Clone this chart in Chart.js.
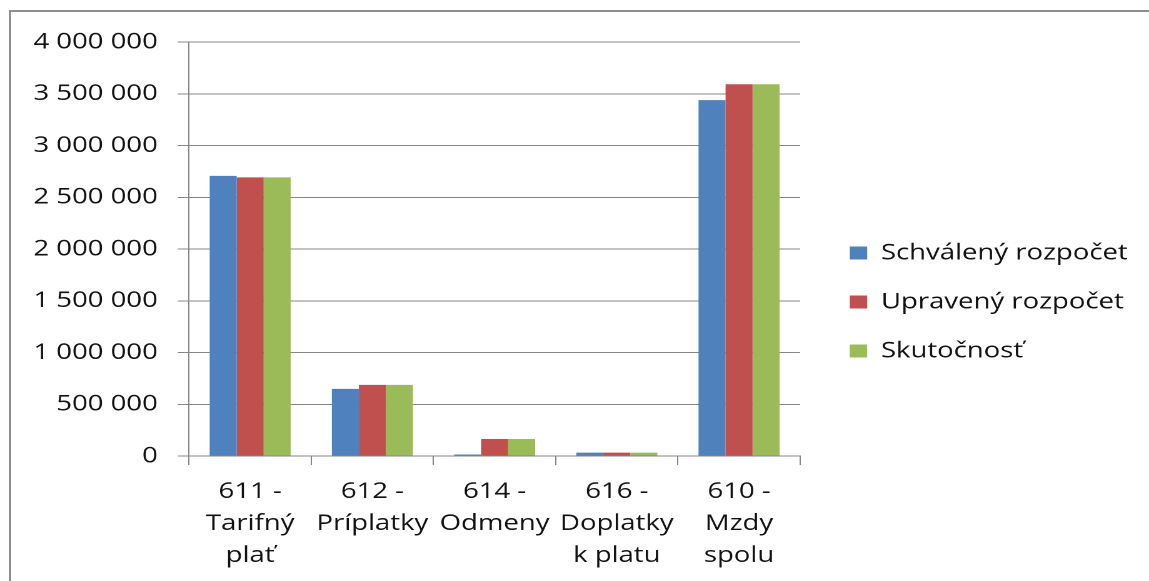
<!DOCTYPE html>
<html>
<head>
<meta charset="utf-8">
<script src="https://cdn.jsdelivr.net/npm/chart.js@4"></script>
<style>
html,body{margin:0;padding:0;background:#fff;overflow:hidden;width:1149px;height:581px;}
#frame{position:absolute;left:9px;top:10px;width:2000px;height:2000px;border-left:2px solid #8e8e8e;border-top:2px solid #8e8e8e;}
#wrap{position:absolute;left:0;top:0;width:919px;height:581px;transform:scaleX(1.2503);transform-origin:0 0;}
</style>
</head>
<body>
<div id="frame"></div>
<div id="wrap"><canvas id="c"></canvas></div>
<script>
const categories = [
  ["611 -", "Tarifný", "plať"],
  ["612 -", "Príplatky"],
  ["614 -", "Odmeny"],
  ["616 -", "Doplatky", "k platu"],
  ["610 -", "Mzdy", "spolu"]
];
const seriesNames = ["Schválený rozpočet", "Upravený rozpočet", "Skutočnosť"];
const schvaleny = [2706000, 649000, 14000, 33000, 3438000];
const upraveny = [2692000, 687000, 164000, 33000, 3592000];
const skutocnost = [2692000, 687000, 164000, 33000, 3592000];
const yTickLabels = ["0", "500 000", "1 000 000", "1 500 000", "2 000 000", "2 500 000", "3 000 000", "3 500 000", "4 000 000"];

const FONT = "Open Sans";
const FS = 22;
const BOX_W = 14, LEG_PAD = 27;

// move the legend a little right of the plot area and up, like the original,
// and give it room so its labels are not clipped
const legendPlace = {
  id: "legendPlace",
  afterLayout(chart) {
    const l = chart.legend;
    if (l) {
      l.left = chart.chartArea.right + 12.6;
      l.width = 300;
      l.right = l.left + l.width;
      l.top -= 9.5; l.bottom -= 9.5;
    }
  }
};

new Chart(document.getElementById("c"), {
  type: "bar",
  data: {
    labels: categories,
    datasets: [
      { label: seriesNames[0], data: schvaleny, backgroundColor: "#4F81BD" },
      { label: seriesNames[1], data: upraveny, backgroundColor: "#C0504D" },
      { label: seriesNames[2], data: skutocnost, backgroundColor: "#9BBB59" }
    ]
  },
  options: {
    responsive: true,
    maintainAspectRatio: false,
    animation: false,
    devicePixelRatio: 2,
    layout: { padding: { top: 42, bottom: 0, left: 0, right: 65.7 } },
    datasets: { bar: { categoryPercentage: 0.663, barPercentage: 1 } },
    plugins: {
      legend: {
        position: "right",
        labels: {
          boxWidth: BOX_W, boxHeight: 13, padding: LEG_PAD, color: "#111",
          font: { family: FONT, size: FS }
        }
      },
      tooltip: { enabled: false }
    },
    scales: {
      x: {
        grid: { drawOnChartArea: false, drawTicks: true, tickLength: 9, color: "#868686", offset: true },
        border: { color: "#868686" },
        ticks: { color: "#111", padding: 11, maxRotation: 0, autoSkip: false, font: { family: FONT, size: FS, lineHeight: 1.45 } },
        afterFit(s) { s.height = 125; }
      },
      y: {
        min: 0, max: 4000000,
        ticks: {
          stepSize: 500000, padding: 16, color: "#111",
          font: { family: FONT, size: FS },
          callback: (v, i) => yTickLabels[i]
        },
        grid: { color: "#868686", tickLength: 9 },
        border: { color: "#868686" },
        afterFit(s) { s.width = 151.2; }
      }
    }
  },
  plugins: [legendPlace]
});
</script>
</body>
</html>
